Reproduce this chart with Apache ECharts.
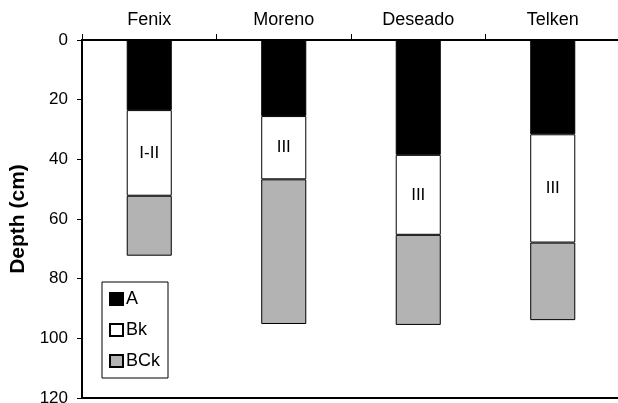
<!DOCTYPE html>
<html>
<head>
<meta charset="utf-8">
<script src="https://cdn.jsdelivr.net/npm/echarts@6/dist/echarts.min.js"></script>
<style>
  html, body { margin: 0; padding: 0; background: #fff; }
  #chart { width: 618px; height: 403px; }
</style>
</head>
<body>
<div id="chart"></div>
<script>
// Soil profiles: horizon thicknesses (cm), stacked downward from the surface
const sites = ['Fenix', 'Moreno', 'Deseado', 'Telken'];
const horizonA = [23.5, 25.5, 38.5, 31.6];
const horizonBk = [28.7, 21.2, 26.8, 36.3];
const horizonBCk = [20.1, 48.5, 30.2, 26.0];
const stageLabels = ['I-II', 'III', 'III', 'III'];
const depthTicks = [0, 20, 40, 60, 80, 100, 120];

const FONT = '"Liberation Sans", Arial, sans-serif';
const chart = echarts.init(document.getElementById('chart'));

const barStyle = (fill) => ({ color: fill, borderColor: '#000', borderWidth: 1 });

chart.setOption({
  animation: false,
  textStyle: { fontFamily: FONT, color: '#000' },
  grid: { left: 82, top: 40, right: -2, bottom: 5, containLabel: false, outerBoundsMode: 'none' },
  legend: {
    orient: 'vertical',
    left: 102,
    top: 282,
    width: 80,
    height: 95,
    padding: [8, 8, 8, 7],
    itemGap: 13,
    itemWidth: 13,
    itemHeight: 12,
    icon: 'rect',
    borderColor: '#000',
    borderWidth: 1,
    backgroundColor: '#fff',
    textStyle: { fontFamily: FONT, fontSize: 18, color: '#000', padding: [0, 0, 0, -2] },
    data: ['A', 'Bk', 'BCk']
  },
  xAxis: [
    {
      type: 'category',
      position: 'top',
      data: sites,
      axisLine: { lineStyle: { color: '#000', width: 2 } },
      axisTick: { show: true, length: 6, lineStyle: { color: '#000', width: 1 } },
      axisLabel: { fontFamily: FONT, fontSize: 18, color: '#000', margin: 11 }
    },
    {
      type: 'category',
      position: 'bottom',
      data: sites,
      axisLine: { lineStyle: { color: '#000', width: 2 } },
      axisTick: { show: false },
      axisLabel: { show: false }
    }
  ],
  yAxis: {
    type: 'value',
    inverse: true,
    min: depthTicks[0],
    max: depthTicks[depthTicks.length - 1],
    interval: depthTicks[1] - depthTicks[0],
    name: 'Depth (cm)',
    nameLocation: 'middle',
    nameGap: 47,
    nameRotate: 90,
    nameTextStyle: { fontFamily: FONT, fontSize: 21, fontWeight: 'bold', color: '#000' },
    axisLine: { show: true, lineStyle: { color: '#000', width: 2 } },
    axisTick: { show: true, length: 5, lineStyle: { color: '#000', width: 1 } },
    axisLabel: { fontFamily: FONT, fontSize: 17, color: '#000', margin: 14 },
    splitLine: { show: false }
  },
  series: [
    {
      name: 'A', type: 'bar', stack: 'depth', xAxisIndex: 0,
      barWidth: '33.5%',
      data: horizonA,
      itemStyle: barStyle('#000')
    },
    {
      name: 'Bk', type: 'bar', stack: 'depth', xAxisIndex: 0,
      barWidth: '33.5%',
      data: horizonBk,
      itemStyle: barStyle('#fff'),
      label: {
        show: true,
        position: 'inside',
        fontFamily: FONT,
        fontSize: 17,
        color: '#000',
        formatter: (p) => stageLabels[p.dataIndex]
      }
    },
    {
      name: 'BCk', type: 'bar', stack: 'depth', xAxisIndex: 0,
      barWidth: '33.5%',
      data: horizonBCk,
      itemStyle: barStyle('#b3b3b3')
    }
  ]
});
</script>
</body>
</html>
